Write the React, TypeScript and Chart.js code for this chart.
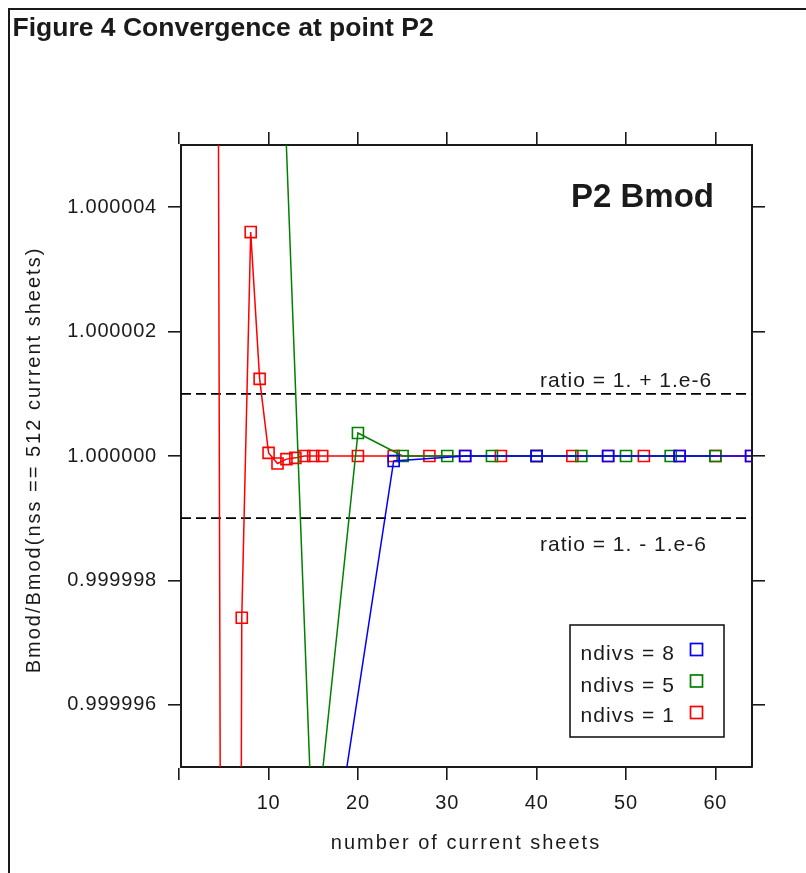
import React, { useEffect, useRef } from 'react';
import { Chart, registerables } from 'chart.js';

Chart.register(...registerables);

// ---- data ----
const RED_X = [4, 5, 6, 7, 8, 9, 10, 11, 12, 13, 14, 15, 16, 20, 24, 28, 32, 36, 40, 44, 48, 52, 56, 60, 64];
const RED_Y = [
  1.0000258, 0.9999732, 0.99995, 0.9999974, 1.0000036, 1.00000124, 1.00000005, 0.99999988, 0.99999995,
  0.99999997, 1.0, 1.0, 1.0, 1.0, 1.0, 1.0, 1.0, 1.0, 1.0, 1.0, 1.0, 1.0, 1.0, 1.0, 1.0,
];
const GREEN_X = [10, 15, 20, 25, 30, 35, 40, 45, 50, 55, 60];
const GREEN_Y = [1.0000126, 0.9999935, 1.00000037, 1.0, 1.0, 1.0, 1.0, 1.0, 1.0, 1.0, 1.0];
const BLUE_X = [8, 16, 24, 32, 40, 48, 56, 64];
const BLUE_Y = [0.99998, 0.9999924, 0.99999992, 1.0, 1.0, 1.0, 1.0, 1.0];

const SERIES_LABELS = ['ndivs = 8', 'ndivs = 5', 'ndivs = 1'];
const SERIES_COLORS = ['#0000ff', '#008000', '#ff0000'];

const X_TICKS = [0, 10, 20, 30, 40, 50, 60];
const Y_TICKS = [0.999996, 0.999998, 1.0, 1.000002, 1.000004];
const X_RANGE = [0.2, 64.1];
const Y_RANGE = [0.999995, 1.000005];
const REF_UPPER = 1.000001;
const REF_LOWER = 0.999999;

const FIGURE_TITLE = 'Figure 4 Convergence at point P2';
const PANEL_LABEL = 'P2 Bmod';
const UPPER_LABEL = 'ratio = 1. + 1.e-6';
const LOWER_LABEL = 'ratio = 1. - 1.e-6';
const X_TITLE = 'number of current sheets';
const Y_TITLE = 'Bmod/Bmod(nss == 512 current sheets)';

const FONT = "'Liberation Sans', Arial, sans-serif";
const INK = '#1a1a1a';

const W = 806;
const H = 873;
const AREA = { left: 181, top: 145, right: 752, bottom: 767 };

const toPts = (xs: number[], ys: number[]) => xs.map((x, i) => ({ x, y: ys[i] }));

const decorPlugin = {
  id: 'decor',
  beforeDraw(chart: any) {
    const ctx = chart.ctx;
    ctx.letterSpacing = '0.8px';
    ctx.save();
    ctx.fillStyle = '#ffffff';
    ctx.fillRect(0, 0, W, H);
    ctx.fillStyle = INK;
    ctx.fillRect(8, 8, W - 8, 2);
    ctx.fillRect(8, 8, 2, H - 8);
    ctx.restore();
  },
  afterDraw(chart: any) {
    const ctx = chart.ctx;
    const ys = chart.scales.y;
    const ca = chart.chartArea;
    ctx.save();
    ctx.fillStyle = INK;
    ctx.textAlign = 'left';
    ctx.textBaseline = 'alphabetic';

    // figure title
    ctx.letterSpacing = '0px';
    ctx.font = `bold 26.5px ${FONT}`;
    ctx.fillText(FIGURE_TITLE, 12.5, 35.5);

    // panel label
    ctx.font = `bold 33px ${FONT}`;
    ctx.fillText(PANEL_LABEL, 571, ca.top + 62);

    // reference line labels
    ctx.letterSpacing = '1px';
    ctx.font = `21px ${FONT}`;
    ctx.fillText(UPPER_LABEL, 540, ys.getPixelForValue(REF_UPPER) - 6.5);
    ctx.fillText(LOWER_LABEL, 540, ys.getPixelForValue(REF_LOWER) + 33);

    // legend
    const bx = 570, by = 625, bw = 154, bh = 112;
    ctx.fillStyle = '#ffffff';
    ctx.fillRect(bx, by, bw, bh);
    ctx.strokeStyle = INK;
    ctx.lineWidth = 1.6;
    ctx.strokeRect(bx, by, bw, bh);
    ctx.font = `21px ${FONT}`;
    ctx.letterSpacing = '1.1px';
    const rowBase = [660, 691.5, 721.5];
    const rowMark = [649.5, 681, 712.5];
    SERIES_LABELS.forEach((lab, i) => {
      ctx.fillStyle = INK;
      ctx.fillText(lab, 580.5, rowBase[i]);
      ctx.strokeStyle = SERIES_COLORS[i];
      ctx.lineWidth = 1.7;
      ctx.strokeRect(696.5 - 6, rowMark[i] - 6, 12, 12);
    });

    // axis titles
    ctx.fillStyle = INK;
    ctx.letterSpacing = '2px';
    ctx.font = `20px ${FONT}`;
    ctx.textAlign = 'center';
    ctx.fillText(X_TITLE, 466, 849);
    ctx.save();
    ctx.translate(40, 460);
    ctx.rotate(-Math.PI / 2);
    ctx.fillText(Y_TITLE, 0, 0);
    ctx.restore();

    ctx.restore();
  },
};

const axisBorder = { display: true, color: INK, width: 2 };
const tickGrid = { display: true, drawOnChartArea: false, drawTicks: true, tickLength: 13, color: INK, tickColor: INK, lineWidth: 1.6, tickWidth: 1.6 };

export default function App() {
  const ref = useRef<HTMLCanvasElement | null>(null);

  useEffect(() => {
    if (!ref.current) return;
    const setX = (s: any) => { s.ticks = X_TICKS.map((v) => ({ value: v })); };
    const setY = (s: any) => { s.ticks = Y_TICKS.map((v) => ({ value: v })); };

    const seriesStyle = (color: string) => ({
      borderColor: color,
      backgroundColor: 'rgba(0,0,0,0)',
      pointBorderColor: color,
      pointBackgroundColor: 'rgba(0,0,0,0)',
      pointStyle: 'rect',
      pointRadius: 7.8,
      pointBorderWidth: 1.6,
      borderWidth: 1.5,
      tension: 0,
      fill: false,
    });

    const chart = new Chart(ref.current, {
      type: 'line',
      data: {
        datasets: [
          { label: SERIES_LABELS[0], data: toPts(BLUE_X, BLUE_Y), ...seriesStyle(SERIES_COLORS[0]) },
          { label: SERIES_LABELS[1], data: toPts(GREEN_X, GREEN_Y), ...seriesStyle(SERIES_COLORS[1]) },
          { label: SERIES_LABELS[2], data: toPts(RED_X, RED_Y), ...seriesStyle(SERIES_COLORS[2]) },
          {
            label: UPPER_LABEL,
            data: [{ x: X_RANGE[0], y: REF_UPPER }, { x: X_RANGE[1], y: REF_UPPER }],
            borderColor: '#000000', borderDash: [10, 5], borderWidth: 1.7, pointRadius: 0, fill: false,
          },
          {
            label: LOWER_LABEL,
            data: [{ x: X_RANGE[0], y: REF_LOWER }, { x: X_RANGE[1], y: REF_LOWER }],
            borderColor: '#000000', borderDash: [10, 5], borderWidth: 1.7, pointRadius: 0, fill: false,
          },
        ] as any,
      },
      options: {
        responsive: false,
        animation: false,
        devicePixelRatio: 1,
        events: [],
        layout: { padding: 0 },
        plugins: { legend: { display: false }, tooltip: { enabled: false }, title: { display: false } },
        scales: {
          x: {
            type: 'linear', position: 'bottom', min: X_RANGE[0], max: X_RANGE[1],
            afterBuildTicks: setX,
            afterFit: (s: any) => { s.height = H - AREA.bottom; },
            border: axisBorder, grid: tickGrid,
            ticks: {
              autoSkip: false, maxRotation: 0, padding: 11, color: INK,
              font: { family: FONT, size: 20 },
              callback: (v: any) => (Number(v) === 0 ? '' : String(v)),
            },
          },
          x2: {
            type: 'linear', position: 'top', min: X_RANGE[0], max: X_RANGE[1],
            afterBuildTicks: setX,
            afterFit: (s: any) => { s.height = AREA.top; },
            border: axisBorder, grid: tickGrid,
            ticks: { display: false },
          },
          y: {
            type: 'linear', position: 'left', min: Y_RANGE[0], max: Y_RANGE[1],
            afterBuildTicks: setY,
            afterFit: (s: any) => { s.width = AREA.left; },
            border: axisBorder, grid: tickGrid,
            ticks: {
              padding: 11, color: INK,
              font: { family: FONT, size: 20 },
              callback: (v: any) => Number(v).toFixed(6),
            },
          },
          y2: {
            type: 'linear', position: 'right', min: Y_RANGE[0], max: Y_RANGE[1],
            afterBuildTicks: setY,
            afterFit: (s: any) => { s.width = W - AREA.right; },
            border: axisBorder, grid: tickGrid,
            ticks: { display: false },
          },
        },
      } as any,
      plugins: [decorPlugin],
    });
    return () => chart.destroy();
  }, []);

  return (
    <canvas
      ref={ref}
      width={W}
      height={H}
      style={{ position: 'absolute', left: 0, top: 0, width: W, height: H, display: 'block' }}
    />
  );
}
